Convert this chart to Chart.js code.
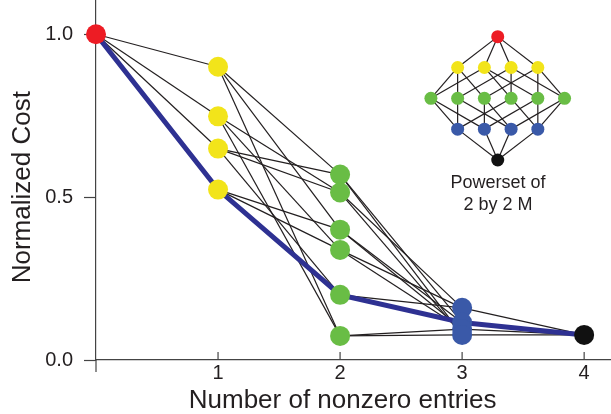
<!DOCTYPE html>
<html lang="en">
<head>
    <meta charset="utf-8">
    <title>Normalized Cost vs Number of nonzero entries</title>
    <style>
        body { margin: 0; background: #fff; }
        #wrap { position: relative; width: 611px; height: 414px; }
        #inset { position: absolute; left: 417px; top: 20px; }
    </style>
</head>
<body>
    <div id="wrap">
        <canvas id="chart" width="611" height="414"></canvas>
        <canvas id="inset" width="162" height="200"></canvas>
    </div>
    <script src="https://cdn.jsdelivr.net/npm/chart.js@4.4.0/dist/chart.umd.min.js"></script>
    <script>
        // costs per number of nonzero entries
        var emptyCost = [1.0];
        var oneEntryCost = [0.90, 0.748, 0.649, 0.523];
        var twoEntryCost = [0.569, 0.514, 0.40, 0.338, 0.20, 0.074];
        var threeEntryCost = [0.16, 0.115, 0.095, 0.077];
        var fourEntryCost = [0.077];
        var bestPathCost = [1.0, 0.523, 0.20, 0.115, 0.077];

        // which node of the next level each node links to
        var emptyToOne = [[0, 1, 2, 3]];
        var oneToTwo = [[0, 2, 5], [1, 3, 5], [0, 1, 4], [2, 3, 4]];
        var twoToThree = [[3, 1], [3, 0], [2, 1], [2, 0], [1, 0], [3, 2]];
        var threeToFour = [[0], [0], [0], [0]];

        // inset: powerset lattice of a 2 by 2 matrix
        var latticeOneToTwo = [[0, 1, 2], [0, 3, 4], [1, 3, 5], [2, 4, 5]];
        var latticeTwoToThree = [[0, 1], [0, 2], [1, 2], [0, 3], [1, 3], [2, 3]];

        var xTickValues = [1, 2, 3, 4];
        var yTickValues = [0, 0.5, 1.0];
        var levelColors = ['#ed1c24', '#f2e41a', '#69bd45', '#3a59a8', '#111111'];

        var fontFamily = "'Liberation Sans', Arial, sans-serif";
        var ink = '#231f20';
        var axisInk = '#444';

        var levels = [emptyCost, oneEntryCost, twoEntryCost, threeEntryCost, fourEntryCost];
        var links = [emptyToOne, oneToTwo, twoToThree, threeToFour];

        var datasets = [];
        levels.forEach(function(costs, lvl) {
            datasets.push({
                data: costs.map(function(c) { return { x: lvl, y: c }; }),
                backgroundColor: levelColors[lvl],
                borderWidth: 0,
                pointRadius: 10,
                pointHoverRadius: 10,
                clip: false,
                order: 0
            });
        });
        datasets.push({
            data: bestPathCost.map(function(c, i) { return { x: i, y: c }; }),
            showLine: true,
            borderColor: '#2e3192',
            borderWidth: 5,
            pointRadius: 0,
            clip: false,
            order: 1
        });
        links.forEach(function(lvlLinks, lvl) {
            lvlLinks.forEach(function(targets, i) {
                targets.forEach(function(j) {
                    datasets.push({
                        data: [{ x: lvl, y: levels[lvl][i] }, { x: lvl + 1, y: levels[lvl + 1][j] }],
                        showLine: true,
                        borderColor: ink,
                        borderWidth: 1.2,
                        pointRadius: 0,
                        clip: false,
                        order: 2
                    });
                });
            });
        });

        // inward x ticks and the short drop of the y axis below zero
        var axisMarks = {
            id: 'axisMarks',
            beforeDatasetsDraw: function(chart) {
                var ctx = chart.ctx, x = chart.scales.x, y = chart.scales.y;
                ctx.save();
                ctx.strokeStyle = axisInk;
                ctx.lineWidth = 1.2;
                xTickValues.forEach(function(v) {
                    var px = x.getPixelForValue(v);
                    ctx.beginPath();
                    ctx.moveTo(px, y.bottom);
                    ctx.lineTo(px, y.bottom - 8);
                    ctx.stroke();
                });
                ctx.beginPath();
                ctx.moveTo(x.left, y.bottom);
                ctx.lineTo(x.left, y.bottom + 12);
                ctx.stroke();
                ctx.restore();
            }
        };

        new Chart(document.getElementById('chart'), {
            type: 'scatter',
            data: { datasets: datasets },
            options: {
                responsive: false,
                animation: false,
                events: [],
                layout: { padding: 0, autoPadding: false },
                plugins: { legend: { display: false }, tooltip: { enabled: false } },
                scales: {
                    x: {
                        type: 'linear',
                        min: 0,
                        max: 4.22,
                        afterBuildTicks: function(s) { s.ticks = xTickValues.map(function(v) { return { value: v }; }); },
                        afterFit: function(s) { s.height = 54; s.paddingLeft = 0; s.paddingRight = 0; },
                        grid: { drawOnChartArea: false, drawTicks: false },
                        border: { color: axisInk, width: 1.2 },
                        ticks: {
                            color: ink, padding: 1, autoSkip: false, maxRotation: 0,
                            font: { size: 20, family: fontFamily },
                            callback: function(v) { return v; }
                        },
                        title: {
                            display: true, text: 'Number of nonzero entries\u00a0\u00a0\u00a0', color: ink,
                            font: { size: 26, family: fontFamily, lineHeight: 1 },
                            padding: { top: 0, bottom: 0 }
                        }
                    },
                    y: {
                        min: 0,
                        max: 1.105,
                        afterBuildTicks: function(s) { s.ticks = yTickValues.map(function(v) { return { value: v }; }); },
                        afterFit: function(s) { s.width = 96; s.paddingTop = 0; s.paddingBottom = 0; },
                        grid: { drawOnChartArea: false, tickLength: 12, tickColor: axisInk, tickWidth: 1.2 },
                        border: { color: axisInk, width: 1.2 },
                        ticks: {
                            color: ink, padding: 11,
                            font: { size: 20, family: fontFamily },
                            callback: function(v) { return Number(v).toFixed(1); }
                        },
                        title: {
                            display: true, text: 'Normalized Cost\u00a0\u00a0', color: ink,
                            font: { size: 26, family: fontFamily, lineHeight: 1 },
                            padding: { top: 10, bottom: 0 }
                        }
                    }
                }
            },
            plugins: [axisMarks]
        });

        // inset lattice: nodes centred in each row
        var latticeLinks = [emptyToOne, latticeOneToTwo, latticeTwoToThree, threeToFour];
        var col = function(i, n) { return i - (n - 1) / 2; };
        var insetSets = [];
        levels.forEach(function(costs, lvl) {
            insetSets.push({
                data: costs.map(function(c, i) { return { x: col(i, costs.length), y: lvl }; }),
                backgroundColor: levelColors[lvl],
                borderWidth: 0,
                pointRadius: 6.5,
                pointHoverRadius: 6.5,
                clip: false,
                order: 0
            });
        });
        latticeLinks.forEach(function(lvlLinks, lvl) {
            var n0 = levels[lvl].length, n1 = levels[lvl + 1].length;
            lvlLinks.forEach(function(targets, i) {
                targets.forEach(function(j) {
                    insetSets.push({
                        data: [{ x: col(i, n0), y: lvl }, { x: col(j, n1), y: lvl + 1 }],
                        showLine: true,
                        borderColor: ink,
                        borderWidth: 1.2,
                        pointRadius: 0,
                        clip: false,
                        order: 1
                    });
                });
            });
        });

        new Chart(document.getElementById('inset'), {
            type: 'scatter',
            data: { datasets: insetSets },
            options: {
                responsive: false,
                animation: false,
                events: [],
                layout: { padding: 0, autoPadding: false },
                plugins: {
                    legend: { display: false },
                    tooltip: { enabled: false },
                    title: {
                        display: true, position: 'bottom', color: ink,
                        text: ['Powerset of', '2 by 2 M'],
                        font: { size: 18, family: fontFamily, weight: 'normal', lineHeight: 22 / 18 },
                        padding: { top: 0, bottom: 4 }
                    }
                },
                scales: {
                    x: { display: false, min: -3.02, max: 3.04 },
                    y: { display: false, reverse: true, min: -0.54, max: 4.39 }
                }
            }
        });
    </script>
</body>
</html>
